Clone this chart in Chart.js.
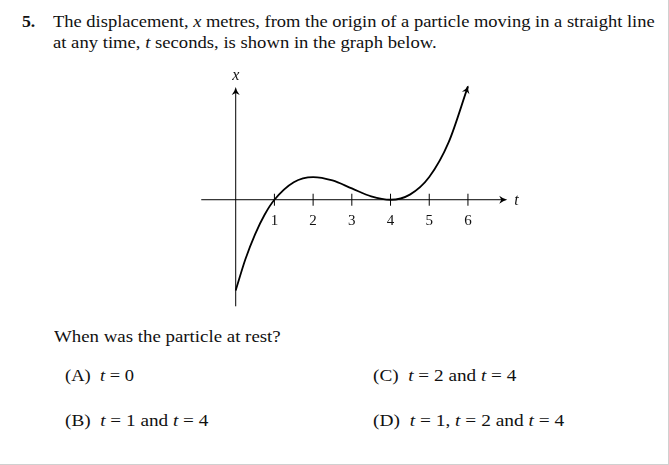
<!DOCTYPE html>
<html>
<head>
<meta charset="utf-8">
<script src="https://cdn.jsdelivr.net/npm/chart.js@4/dist/chart.umd.min.js"></script>
<style>
  html, body { margin: 0; padding: 0; background: #fff; }
  #page { position: relative; width: 668px; height: 464px; border-right: 1px solid #d0d0d0; border-bottom: 1px solid #d0d0d0; overflow: hidden; }
  .t { position: absolute; white-space: nowrap; font-family: "Liberation Serif", serif; font-size: 17px; line-height: 17px; color: #111; transform-origin: 0 0; }
  .t i { font-style: italic; }
  #wrap { position: absolute; left: 197px; top: 60px; width: 329px; height: 248px; }
</style>
</head>
<body>
<div id="page">
  <div class="t" style="left:21.7px;top:13.4px;font-weight:bold" data-w="13.3">5.</div>
  <div class="t" style="left:53.3px;top:13.4px" data-w="601.7">The displacement, <i>x</i> metres, from the origin of a particle moving in a straight line</div>
  <div class="t" style="left:53.3px;top:34px" data-w="383.7">at any time, <i>t</i> seconds, is shown in the graph below.</div>
  <div class="t" style="left:54px;top:328.4px" data-w="226.7">When was the particle at rest?</div>
  <div class="t" style="left:65px;top:367px" data-w="69">(A)&nbsp; <i>t</i> = 0</div>
  <div class="t" style="left:65px;top:412.2px" data-w="143.3">(B)&nbsp; <i>t</i> = 1 and <i>t</i> = 4</div>
  <div class="t" style="left:372.7px;top:367px" data-w="143.3">(C)&nbsp; <i>t</i> = 2 and <i>t</i> = 4</div>
  <div class="t" style="left:372.7px;top:412.2px" data-w="191.3">(D)&nbsp; <i>t</i> = 1, <i>t</i> = 2 and <i>t</i> = 4</div>
  <div id="wrap"><canvas id="myChart" width="329" height="248"></canvas></div>
</div>
<script>
// displacement (t in seconds, x in grid units)
const tValues = [0, 0.25, 0.5, 0.75, 1, 1.5, 2, 2.5, 3, 3.5, 4, 4.5, 5, 5.5, 6];
const xValues = [-16, -10.5, -6.1, -2.6, 0, 3.1, 4, 3.4, 2, 0.6, 0, 0.9, 4, 10.1, 20];
const tickValues = [1, 2, 3, 4, 5, 6];
const tickLabels = ['1', '2', '3', '4', '5', '6'];

// stretch each text line to the width it has in the picture
document.querySelectorAll('.t').forEach(el => {
  const w = el.getBoundingClientRect().width;
  const target = parseFloat(el.dataset.w);
  el.style.transform = 'scaleX(' + (target / w) + ')';
});

function arrowHead(ctx, x, y, ang) {
  ctx.save();
  ctx.translate(x, y);
  ctx.rotate(ang);
  ctx.beginPath();
  ctx.moveTo(1, 0);
  ctx.quadraticCurveTo(-3, 0.8, -7, 4);
  ctx.lineTo(-5, 0);
  ctx.lineTo(-7, -4);
  ctx.quadraticCurveTo(-3, -0.8, 1, 0);
  ctx.closePath();
  ctx.fillStyle = '#000';
  ctx.fill();
  ctx.restore();
}

const axesPlugin = {
  id: 'axes',
  beforeDatasetsDraw(chart) {
    const ctx = chart.ctx;
    const xs = chart.scales.x, ys = chart.scales.y;
    const x0 = xs.getPixelForValue(0), y0 = ys.getPixelForValue(0);
    ctx.save();
    ctx.strokeStyle = '#000';
    ctx.lineWidth = 1;
    // t axis
    const left = xs.getPixelForValue(-0.89), right = xs.getPixelForValue(6.99);
    ctx.beginPath();
    ctx.moveTo(left, y0); ctx.lineTo(right - 3, y0);
    ctx.stroke();
    arrowHead(ctx, right, y0, 0);
    // x axis
    const top = ys.getPixelForValue(19.7), bottom = ys.getPixelForValue(-18.8);
    ctx.beginPath();
    ctx.moveTo(x0, bottom); ctx.lineTo(x0, top + 3);
    ctx.stroke();
    arrowHead(ctx, x0, top, -Math.PI / 2);
    // ticks and labels
    ctx.fillStyle = '#111';
    ctx.font = '15px "Liberation Serif", serif';
    ctx.textAlign = 'center';
    ctx.textBaseline = 'alphabetic';
    tickValues.forEach((v, i) => {
      const px = xs.getPixelForValue(v);
      ctx.beginPath();
      ctx.moveTo(px, y0 - 6); ctx.lineTo(px, y0 + 6);
      ctx.stroke();
      ctx.fillText(tickLabels[i], px, y0 + 25);
    });
    ctx.font = 'italic 16px "Liberation Serif", serif';
    ctx.textAlign = 'left';
    ctx.fillText('t', right + 8, y0 + 5);
    ctx.textAlign = 'center';
    ctx.fillText('x', x0, top - 8);
    ctx.restore();
  },
  afterDatasetsDraw(chart) {
    const pts = chart.getDatasetMeta(0).data;
    const last = pts[pts.length - 1];
    const cx = last.cp1x !== undefined ? last.cp1x : pts[pts.length - 2].x;
    const cy = last.cp1y !== undefined ? last.cp1y : pts[pts.length - 2].y;
    arrowHead(chart.ctx, last.x, last.y, Math.atan2(last.y - cy, last.x - cx));
  }
};

const ctx = document.getElementById('myChart').getContext('2d');
const myChart = new Chart(ctx, {
  type: 'line',
  data: {
    datasets: [{
      data: tValues.map((t, i) => ({x: t, y: xValues[i]})),
      borderColor: '#000',
      borderWidth: 1.8,
      pointRadius: 0,
      cubicInterpolationMode: 'monotone',
      fill: false
    }]
  },
  options: {
    responsive: false,
    animation: false,
    devicePixelRatio: 1,
    layout: {padding: 0},
    scales: {
      x: {type: 'linear', min: -1, max: 7.5, display: false},
      y: {type: 'linear', min: -19.1, max: 24.65, display: false}
    },
    plugins: {legend: {display: false}, tooltip: {enabled: false}}
  },
  plugins: [axesPlugin]
});
</script>
</body>
</html>
